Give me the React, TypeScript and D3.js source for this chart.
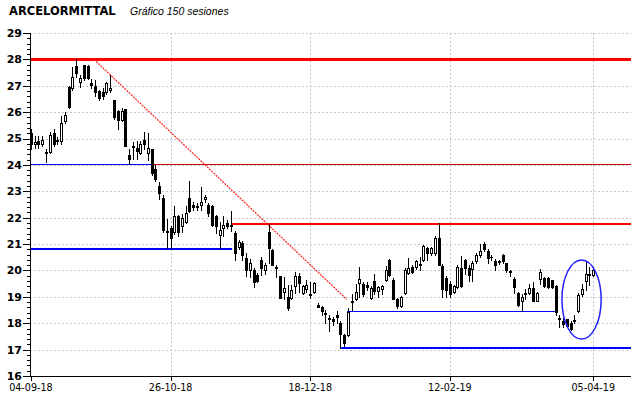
import React from 'react';
import * as d3 from 'd3';

const opens = [
  25.2, 24.8, 24.9, 24.8, 24.5, 24.5, 25.2, 24.95, 24.9, 25.65,
  26.95, 26.9, 27.75, 27.16, 27.78, 27.75, 27.12, 27.0, 26.8, 26.76,
  26.76, 26.83, 26.45, 26.05, 25.7, 26.12, 24.37, 24.72, 24.66, 24.47,
  24.94, 24.47, 24.6, 23.84, 23.2, 22.75, 21.5, 21.6, 21.45, 22.08,
  21.67, 21.85, 22.75, 22.5, 22.4, 22.5, 22.72, 22.5, 22.44, 22.05,
  21.35, 21.6, 21.8, 21.72, 21.42, 20.9, 21.03, 20.46, 20.02, 20.02,
  19.83, 20.4, 20.0, 21.46, 20.77, 20.12, 19.79, 19.2, 19.01, 18.95,
  19.41, 19.79, 19.16, 19.29, 19.12, 19.2, 18.7, 18.6, 18.4, 18.2,
  18.15, 18.3, 18.0, 17.55, 17.57, 18.86, 18.91, 19.54, 19.5, 19.45,
  18.95, 19.59, 19.21, 19.3, 19.65, 20.41, 19.65, 18.92, 18.65, 19.15,
  19.9, 20.12, 20.15, 20.2, 20.4, 20.84, 20.66, 20.66, 21.23, 20.18,
  19.7, 19.5, 19.2, 19.38, 20.1, 20.41, 20.1, 20.06, 20.35, 20.6,
  21.0, 20.74, 20.52, 20.35, 20.33, 20.58, 20.27, 19.98, 19.69, 19.14,
  18.83, 19.1, 19.16, 19.32, 18.83, 19.69, 19.73, 19.72, 19.63, 19.41,
  18.2, 18.09, 18.15, 18.02, 18.1, 18.46, 19.11, 19.6, 19.88, 19.84,
];
const highs = [
  25.35, 25.1, 25.1, 25.1, 24.6, 25.25, 25.35, 25.05, 25.85, 26.0,
  27.0, 27.7, 28.0, 27.4, 27.8, 27.8, 27.27, 27.2, 26.85, 26.9,
  27.15, 27.4, 26.45, 26.1, 26.15, 26.12, 24.62, 24.85, 24.9, 24.92,
  25.23, 25.2, 24.62, 24.0, 23.35, 22.85, 21.95, 21.7, 22.45, 22.1,
  22.15, 22.45, 23.4, 22.6, 22.55, 23.15, 22.85, 22.55, 22.5, 22.1,
  21.82, 22.05, 21.9, 22.25, 21.5, 21.15, 21.1, 20.65, 20.45, 20.1,
  19.9, 20.52, 20.3, 21.75, 20.8, 20.2, 19.8, 19.77, 19.45, 19.45,
  19.95, 19.9, 19.45, 19.64, 19.58, 19.55, 18.75, 18.65, 18.5, 18.3,
  18.25, 18.45, 18.1, 17.6, 18.57, 19.1, 19.5, 20.15, 19.55, 19.55,
  19.4, 19.85, 19.4, 19.45, 20.16, 20.42, 19.7, 18.95, 19.05, 20.08,
  20.47, 20.2, 20.4, 20.5, 20.98, 20.9, 20.9, 21.3, 21.79, 20.25,
  19.8, 19.6, 19.45, 20.2, 20.53, 20.45, 20.2, 20.35, 20.65, 21.0,
  21.06, 20.8, 20.6, 20.45, 20.4, 20.62, 20.3, 20.03, 19.75, 19.17,
  19.1, 19.3, 19.5, 19.56, 19.2, 20.06, 19.76, 19.75, 19.65, 19.45,
  18.33, 18.2, 18.17, 18.08, 18.3, 19.13, 19.5, 20.31, 20.12, 20.15,
];
const lows = [
  24.6, 24.65, 24.65, 24.7, 24.1, 24.45, 24.7, 24.8, 24.8, 25.6,
  26.15, 26.85, 27.35, 26.95, 27.2, 27.25, 26.9, 26.6, 26.45, 26.5,
  26.7, 26.75, 25.75, 25.35, 25.65, 24.7, 24.03, 24.22, 24.22, 24.4,
  24.6, 24.2, 23.6, 23.4, 22.7, 21.45, 20.85, 20.85, 21.4, 21.3,
  21.45, 21.8, 22.2, 22.3, 22.3, 22.3, 22.6, 22.05, 21.7, 21.43,
  20.84, 21.3, 21.6, 21.5, 20.4, 20.82, 20.4, 19.8, 19.75, 19.36,
  19.55, 19.83, 19.85, 20.3, 20.2, 19.77, 18.95, 18.92, 18.5, 18.9,
  19.14, 19.2, 19.1, 19.2, 18.95, 19.15, 18.6, 18.32, 18.0, 17.7,
  17.95, 18.0, 17.05, 17.13, 17.5, 18.5, 18.88, 19.0, 19.05, 19.25,
  18.9, 19.1, 19.0, 19.1, 19.6, 19.8, 18.9, 18.58, 18.6, 19.1,
  19.85, 19.9, 20.05, 20.0, 20.35, 20.4, 20.6, 20.6, 20.2, 19.0,
  19.0, 19.0, 19.15, 19.35, 19.38, 19.85, 19.6, 19.6, 20.3, 20.5,
  20.75, 20.3, 20.4, 20.03, 20.25, 20.3, 19.93, 19.78, 19.14, 18.64,
  18.46, 18.9, 19.1, 18.83, 18.83, 19.5, 19.38, 19.35, 19.35, 18.33,
  17.84, 17.84, 17.84, 17.75, 18.0, 18.42, 19.05, 19.26, 19.44, 19.8,
];
const closes = [
  24.8, 24.85, 24.8, 24.95, 24.45, 25.15, 24.8, 24.9, 25.6, 25.9,
  26.2, 27.35, 27.5, 27.31, 27.31, 27.3, 27.04, 26.76, 26.55, 26.63,
  27.1, 26.9, 25.8, 25.7, 26.06, 24.72, 24.22, 24.68, 24.53, 24.79,
  24.79, 24.66, 23.7, 23.45, 22.94, 21.55, 21.45, 21.22, 22.08, 21.45,
  21.99, 22.18, 22.25, 22.4, 22.45, 22.6, 22.77, 22.18, 21.74, 21.67,
  21.55, 21.73, 21.68, 21.7, 20.65, 21.06, 20.6, 20.0, 20.27, 19.58,
  19.6, 20.08, 20.2, 20.84, 20.21, 20.08, 18.97, 19.33, 18.57, 19.26,
  19.79, 19.51, 19.41, 19.45, 19.08, 19.51, 18.63, 18.48, 18.36, 18.15,
  18.1, 18.22, 17.6, 17.25, 18.42, 18.82, 19.2, 19.68, 19.1, 19.38,
  19.33, 19.21, 19.36, 19.4, 20.03, 19.84, 18.92, 18.65, 18.98, 20.03,
  20.1, 19.95, 20.35, 20.25, 20.94, 20.65, 20.84, 21.23, 20.22, 19.28,
  19.27, 19.09, 19.4, 20.13, 19.4, 20.1, 19.84, 20.3, 20.57, 20.75,
  20.8, 20.48, 20.5, 20.22, 20.35, 20.35, 20.02, 19.95, 19.38, 18.7,
  19.01, 19.15, 19.32, 18.83, 19.14, 19.94, 19.41, 19.38, 19.38, 18.42,
  18.15, 17.96, 17.88, 17.78, 18.14, 19.07, 19.28, 19.88, 19.83, 20.0,
];

const tickIndex = [0, 37, 74, 111, 149];
const tickLabels = ['04-09-18', '26-10-18', '18-12-18', '12-02-19', '05-04-19'];
const priceTicks = d3.range(16, 30);

// horizontal support / resistance lines (price, session from, session to)
const levelPrice = [28, 24.05, 24.05, 20.83, 21.75, 18.45, 17.05];
const levelFrom = [-0.25, -0.25, 32.1, -0.25, 53.3, 83.8, 82.2];
const levelTo = [159, 32.1, 159, 53.3, 159, 139.5, 159];
const levelColor = ['#ff0000', '#0000ff', '#d00000', '#0000ff', '#ff0000', '#0000ff', '#0000ff'];
const levelWidth = [3, 1, 1, 2, 2, 1, 2];

// bajista: session / price pairs
const trendIdx = [16.7, 83.7];
const trendPrice = [28, 18.9];
// ellipse around the last rebound
const ellipseIdx = [140.7, 151.1];
const ellipsePrice = [17.4, 20.4];

const W = 640, H = 398;

export default function App() {
  const x = d3.scaleLinear().domain([-0.25, 159]).range([30, 631]);
  const y = d3.scaleLinear().domain([16, 29]).range([376, 33]);
  const left = x(-0.25), right = x(159);
  const top = y(29), bottom = y(16);

  const minor: number[] = [];
  for (let v = 16; v < 29; v += 0.2) minor.push(+v.toFixed(1));

  const candles = opens.map((o, i) => {
    const c = closes[i];
    const px = Math.round(x(i));
    const yt = Math.round(y(Math.max(o, c))) + 0.5;
    const yb = Math.round(y(Math.min(o, c))) + 0.5;
    return (
      <g key={i}>
        <line x1={px + 0.5} x2={px + 0.5} y1={Math.round(y(highs[i]))} y2={Math.round(y(lows[i])) + 1} stroke="#000" strokeWidth={1} />
        {yb - yt < 1
          ? <line x1={px - 1} x2={px + 2} y1={yt} y2={yt} stroke="#000" strokeWidth={1} />
          : <rect x={px - 0.5} y={yt} width={2} height={yb - yt} fill={c >= o ? '#fff' : '#000'} stroke="#000" strokeWidth={1} />}
      </g>
    );
  });

  return (
    <svg width={W} height={H} style={{ position: 'absolute', left: 0, top: 0, background: '#fff' }} fontFamily="'DejaVu Sans', Verdana, sans-serif">
      <text x={9} y={15} fontSize={11.5} fontWeight="bold" fill="#000">ARCELORMITTAL</text>
      <text x={130} y={15} fontSize={10.5} fontStyle="italic" fontFamily="'Liberation Sans', Arial, sans-serif" fill="#000">Gráfico 150 sesiones</text>

      {/* grid */}
      {priceTicks.slice(1).map(p => (
        <line key={'gh' + p} x1={left} x2={right} y1={Math.round(y(p)) + 0.5} y2={Math.round(y(p)) + 0.5} stroke="#c4c4d4" strokeDasharray="2,2" />
      ))}
      {tickIndex.slice(1).map(t => (
        <line key={'gv' + t} x1={Math.round(x(t)) + 0.5} x2={Math.round(x(t)) + 0.5} y1={top} y2={bottom} stroke="#c4c4d4" strokeDasharray="2,2" />
      ))}

      {/* levels */}
      {levelPrice.map((p, k) => (
        <line key={'lv' + k} x1={x(levelFrom[k])} x2={x(levelTo[k])} y1={Math.round(y(p)) + (levelWidth[k] % 2 ? 0.5 : 0)} y2={Math.round(y(p)) + (levelWidth[k] % 2 ? 0.5 : 0)} stroke={levelColor[k]} strokeWidth={levelWidth[k]} />
      ))}
      <line x1={x(trendIdx[0])} y1={y(trendPrice[0])} x2={x(trendIdx[1])} y2={y(trendPrice[1])} stroke="#ff2020" strokeWidth={1.2} strokeDasharray="2,1" />

      {candles}

      <ellipse cx={x((ellipseIdx[0] + ellipseIdx[1]) / 2)} cy={y((ellipsePrice[0] + ellipsePrice[1]) / 2)} rx={(x(ellipseIdx[1]) - x(ellipseIdx[0])) / 2} ry={(y(ellipsePrice[0]) - y(ellipsePrice[1])) / 2} fill="none" stroke="#2020ff" strokeWidth={1.5} />

      {/* y axis */}
      <line x1={left + 0.5} x2={left + 0.5} y1={top} y2={bottom} stroke="#000" />
      {minor.map(v => (
        <line key={'mt' + v} x1={left - 3} x2={left} y1={Math.round(y(v)) + 0.5} y2={Math.round(y(v)) + 0.5} stroke="#000" />
      ))}
      {priceTicks.map(p => (
        <g key={'yt' + p}>
          <line x1={left - 7} x2={left} y1={Math.round(y(p)) + 0.5} y2={Math.round(y(p)) + 0.5} stroke="#000" />
          <text x={left - 8} y={y(p)} dy="0.36em" textAnchor="end" fontSize={11} fontWeight="bold" fill="#000">{p}</text>
        </g>
      ))}

      {/* x axis */}
      <line x1={left} x2={right} y1={Math.round(bottom) + 0.5} y2={Math.round(bottom) + 0.5} stroke="#000" />
      {tickIndex.map((t, k) => (
        <g key={'xt' + t}>
          <line x1={Math.round(x(t)) + 0.5} x2={Math.round(x(t)) + 0.5} y1={bottom} y2={bottom + 5} stroke="#000" />
          <text x={x(t)} y={bottom + 15} textAnchor="middle" fontSize={9.6} fill="#000">{tickLabels[k]}</text>
        </g>
      ))}
    </svg>
  );
}
